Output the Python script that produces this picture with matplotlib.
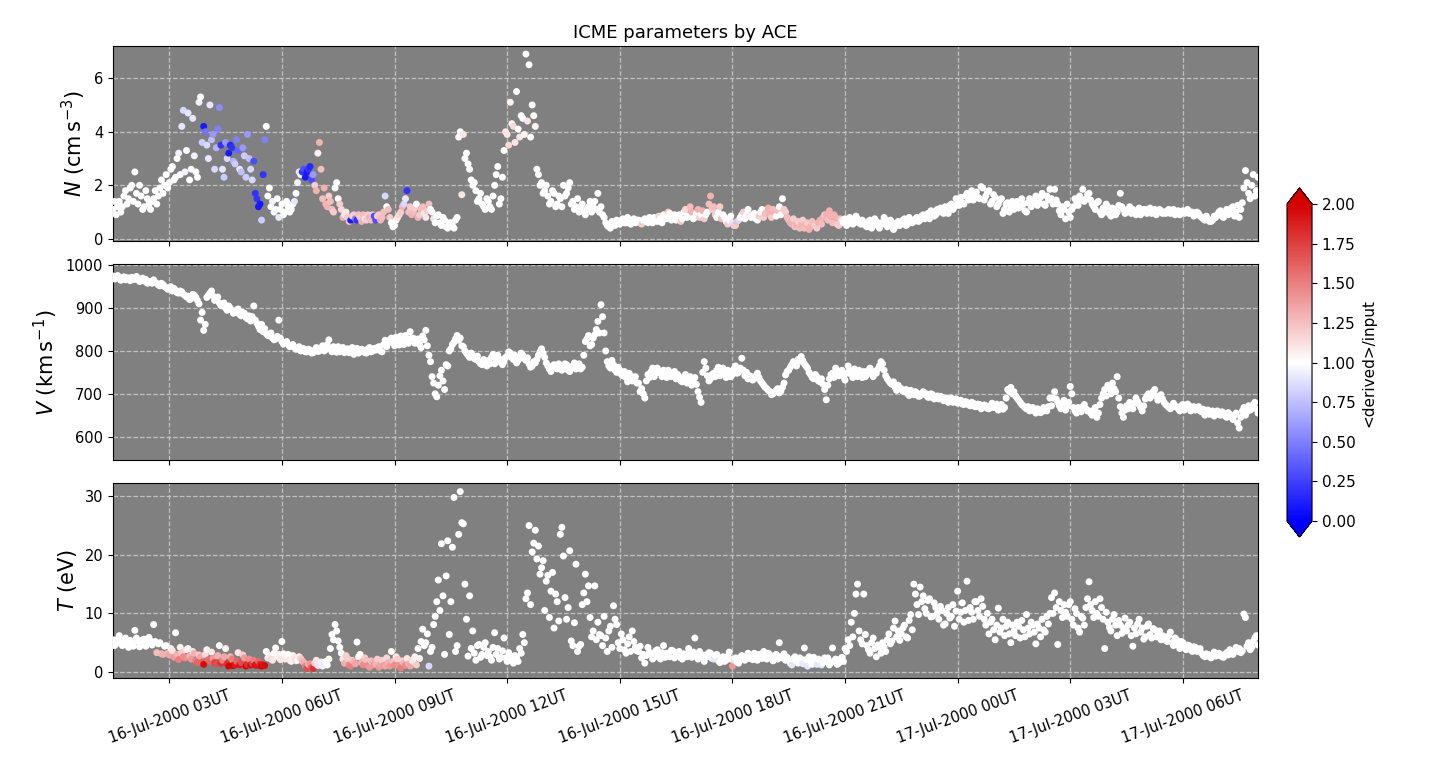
import numpy as np
import pandas as pd
import matplotlib
matplotlib.use('Agg')
import matplotlib.pyplot as plt
import matplotlib.dates as mdates
from matplotlib.colors import Normalize, LinearSegmentedColormap

# ACE data, 2.5-min samples from 16-Jul-2000 01:30UT, one row per hour
t_start = '2000-07-16 01:30'
t_end = '2000-07-17 08:00'

n_rows = [
    [1.1, 1.4, 0.9, 1.2, 1.4, 1.0, 1.2, 1.6, 1.8, 1.3, 1.5, 1.9, 2.0, 1.4, 2.5, 1.7, 1.3, 2.0, 1.6, 1.1, 1.2, 1.8, 1.5, 1.3],
    [1.1, 1.4, 1.5, 1.8, 1.3, 1.6, 1.9, 2.2, 1.7, 2.0, 2.4, 1.9, 2.1, 2.6, 2.7, 2.2, 2.3, 3.0, 3.2, 2.4, 4.2, 4.8, 2.5, 3.3],
    [4.7, 2.2, 2.6, 4.5, 3.1, 2.5, 2.3, 5.1, 5.3, 3.6, 4.2, 4.0, 3.5, 3.0, 5.0, 3.7, 3.9, 2.6, 3.4, 4.1, 4.9, 3.5, 2.6, 2.3],
    [3.6, 3.0, 3.2, 3.5, 3.4, 2.9, 2.8, 3.7, 3.3, 2.6, 2.5, 3.4, 3.1, 2.3, 3.9, 3.0, 2.6, 2.2, 2.9, 1.7, 1.5, 1.2, 1.3, 0.7],
    [2.4, 3.7, 4.2, 1.6, 1.9, 1.2, 1.4, 1.0, 1.1, 1.5, 0.8, 1.1, 1.3, 0.9, 1.0, 1.4, 1.2, 1.0, 1.1, 1.3, 1.4, 1.7, 2.1, 2.5],
    [2.4, 2.5, 2.6, 2.3, 2.5, 2.6, 2.7, 2.2, 2.4, 2.0, 1.8, 3.2, 3.6, 2.6, 1.5, 1.9, 1.3, 1.2, 1.6, 1.4, 1.1, 1.0, 1.9, 2.1],
    [1.5, 1.3, 1.1, 0.8, 0.9, 1.0, 0.8, 0.65, 0.7, 0.85, 0.9, 0.75, 0.7, 0.9, 0.8, 0.65, 0.9, 0.75, 0.7, 0.9, 0.8, 0.7, 0.9, 0.85],
    [0.7, 0.85, 0.9, 0.7, 0.8, 1.0, 1.6, 1.2, 1.1, 0.8, 0.6, 0.45, 0.5, 0.7, 0.8, 0.9, 1.0, 1.2, 1.3, 1.5, 1.8, 1.0, 1.2, 0.9],
    [1.0, 1.15, 1.3, 0.8, 0.9, 1.1, 1.2, 0.95, 0.8, 1.05, 1.3, 1.1, 1.0, 0.75, 0.6, 0.85, 0.9, 0.6, 0.5, 0.8, 0.7, 0.45, 0.4, 0.6],
    [0.6, 0.5, 0.4, 0.7, 0.8, 3.8, 4.0, 1.65, 3.9, 3.0, 3.2, 2.8, 2.6, 2.2, 2.0, 2.1, 1.8, 1.4, 1.5, 1.7, 1.3, 1.2, 1.1, 1.5],
    [1.4, 1.2, 1.1, 1.6, 2.0, 2.4, 2.7, 1.3, 1.5, 2.3, 3.3, 4.0, 3.9, 3.5, 5.1, 4.3, 4.2, 3.6, 5.5, 4.1, 3.8, 4.6, 4.5, 3.9],
    [6.9, 4.4, 6.5, 3.8, 5.0, 4.6, 4.2, 2.6, 2.4, 2.0, 2.1, 1.7, 1.8, 2.0, 1.6, 1.3, 1.4, 1.8, 1.7, 1.2, 1.3, 1.6, 1.5, 1.2],
    [2.0, 1.6, 1.7, 1.9, 2.1, 1.3, 1.4, 1.1, 1.2, 1.5, 1.0, 1.2, 1.3, 1.0, 0.9, 1.1, 1.2, 1.4, 1.0, 1.2, 1.4, 1.1, 1.7, 1.0],
    [1.2, 0.9, 0.8, 0.6, 0.5, 0.45, 0.4, 0.65, 0.6, 0.5, 0.7, 0.6, 0.55, 0.7, 0.75, 0.6, 0.6, 0.8, 0.7, 0.55, 0.65, 0.75, 0.6, 0.7],
    [0.7, 0.6, 0.55, 0.7, 0.75, 0.65, 0.6, 0.8, 0.7, 0.6, 0.8, 0.7, 0.65, 0.85, 0.75, 0.6, 0.9, 0.8, 0.75, 1.0, 0.95, 0.7, 0.8, 0.9],
    [0.7, 0.85, 0.9, 0.65, 0.75, 1.0, 1.1, 0.8, 0.85, 1.2, 1.0, 0.75, 0.8, 0.95, 1.1, 0.8, 0.9, 1.05, 0.75, 0.9, 1.0, 1.3, 1.6, 1.1],
    [1.2, 0.9, 0.8, 1.0, 1.2, 0.75, 0.9, 0.8, 0.65, 0.55, 0.7, 0.85, 0.6, 0.5, 0.5, 0.65, 0.7, 0.8, 0.9, 1.0, 0.75, 0.9, 1.1, 0.85],
    [0.8, 0.9, 0.95, 0.75, 0.7, 0.85, 1.0, 1.1, 0.8, 0.95, 1.0, 1.15, 0.9, 0.8, 1.1, 0.95, 0.85, 1.05, 1.2, 0.9, 1.5, 1.1, 1.0, 0.8],
    [0.7, 0.6, 0.55, 0.75, 0.45, 0.55, 0.65, 0.4, 0.5, 0.7, 0.4, 0.55, 0.6, 0.35, 0.45, 0.65, 0.55, 0.5, 0.4, 0.6, 0.7, 0.55, 0.8, 0.9],
    [0.9, 0.7, 1.05, 0.85, 0.6, 0.9, 0.8, 0.55, 0.5, 0.75, 0.7, 0.6, 0.75, 0.5, 0.6, 0.8, 0.7, 0.55, 0.6, 0.85, 0.75, 0.6, 0.55, 0.7],
    [0.6, 0.5, 0.45, 0.65, 0.7, 0.4, 0.5, 0.75, 0.65, 0.5, 0.4, 0.6, 0.55, 0.8, 0.7, 0.45, 0.5, 0.7, 0.6, 0.35, 0.45, 0.6, 0.65, 0.5],
    [0.6, 0.7, 0.75, 0.5, 0.55, 0.8, 0.7, 0.6, 0.65, 0.75, 0.8, 0.65, 0.7, 0.85, 0.9, 0.75, 0.85, 0.95, 0.75, 1.05, 1.0, 0.85, 0.9, 1.1],
    [1.0, 1.15, 1.1, 0.95, 1.2, 1.05, 0.95, 1.25, 1.3, 1.1, 1.2, 1.5, 1.4, 1.25, 1.55, 1.35, 1.3, 1.6, 1.7, 1.45, 1.6, 1.8, 1.45, 1.65],
    [1.75, 1.55, 1.5, 1.95, 1.9, 1.45, 1.6, 1.75, 1.8, 1.3, 1.4, 1.65, 1.55, 1.2, 1.3, 1.45, 1.5, 0.95, 1.1, 1.3, 1.35, 1.0, 1.2, 1.4],
    [1.1, 1.3, 1.4, 1.15, 1.2, 1.5, 1.3, 1.05, 1.0, 1.35, 1.5, 1.2, 1.3, 1.45, 1.6, 1.25, 1.35, 1.55, 1.7, 1.3, 1.25, 1.6, 1.45, 1.85],
    [1.5, 1.3, 1.85, 1.45, 1.3, 1.05, 0.9, 1.2, 1.1, 0.75, 1.3, 1.0, 0.8, 1.1, 1.2, 1.5, 1.4, 1.25, 1.6, 1.45, 1.85, 1.4, 1.5, 1.65],
    [1.7, 1.45, 1.3, 1.2, 1.1, 1.35, 1.4, 1.0, 0.9, 1.15, 1.0, 1.3, 1.2, 0.95, 0.85, 1.15, 1.1, 0.9, 1.0, 1.25, 1.7, 1.2, 1.1, 0.95],
    [1.0, 1.1, 1.2, 0.95, 1.1, 1.0, 0.9, 1.05, 1.15, 0.9, 1.0, 1.1, 1.1, 0.95, 1.05, 1.15, 0.95, 1.05, 1.1, 0.9, 1.0, 1.1, 1.05, 0.95],
    [1.0, 0.95, 1.05, 1.1, 0.95, 1.0, 1.1, 0.9, 1.0, 1.05, 0.9, 1.0, 1.05, 0.95, 1.0, 1.1, 0.95, 1.0, 1.0, 0.85, 0.9, 1.0, 0.95, 0.85],
    [0.8, 0.75, 0.7, 0.85, 0.75, 0.65, 0.65, 0.7, 0.85, 0.8, 0.9, 1.0, 1.05, 0.85, 0.8, 0.95, 1.1, 0.9, 0.95, 1.15, 1.2, 0.85, 1.0, 1.25],
    [0.8, 1.1, 1.35, 1.9, 2.55, 2.1, 1.7, 1.5, 2.0, 2.4, 1.6, 1.8, 2.3],
]

n_ratio_rows = [
    [1, 1, 1, 1, 1, 1, 1, 1, 1, 1, 1, 1, 1, 1, 1, 1, 1, 1, 1, 1, 1, 1, 1, 1],
    [1, 1, 1, 1, 1, 1, 1, 1, 1, 1, 1, 1, 1, 1, 1, 1, 1, 1, 0.95, 1, 0.9, 0.85, 0.95, 1],
    [0.9, 1.0, 1.0, 0.9, 0.95, 1.0, 1.0, 0.95, 1.0, 0.8, 0.1, 0.45, 0.85, 0.9, 0.9, 0.75, 0.6, 0.85, 0.7, 0.5, 0.55, 0.2, 0.9, 0.8],
    [0.6, 0.85, 0.1, 0.15, 0.2, 0.7, 0.8, 0.5, 0.4, 0.9, 0.75, 0.6, 0.8, 0.8, 0.6, 0.75, 0.85, 0.85, 0.3, 0.2, 0.2, 0.1, 0.1, 0.8],
    [0.2, 0.5, 1.0, 1, 1.0, 1, 0.95, 1, 1.0, 1, 0.9, 1, 1.0, 1, 1.0, 1, 1.0, 1, 1.0, 1, 0.9, 1, 0.95, 0.9],
    [0.95, 0.2, 0.3, 0.1, 0.1, 0.2, 0.15, 0.3, 0.6, 1.2, 1.3, 1.05, 1.3, 1.25, 1.25, 1.3, 1.3, 1.3, 1.2, 1.25, 1.25, 1.2, 1.0, 1.0],
    [1.0, 1.2, 1.15, 1.3, 0.9, 1.1, 1.2, 1.25, 0.1, 1.2, 1.2, 0.5, 0.2, 1.25, 1.2, 1.3, 1.25, 0.9, 1.2, 1.2, 1.3, 1.25, 1.2, 0.3],
    [0.3, 1.2, 1.2, 1.3, 1.25, 1.25, 0.85, 1.0, 1.25, 1.2, 1.0, 1.0, 1.0, 1.0, 1.1, 1.15, 1.2, 1.3, 0.85, 0.9, 0.2, 1.25, 1.2, 1.3],
    [1.25, 1.2, 1.0, 1.3, 1.2, 1.25, 1.25, 1.1, 1.1, 1.2, 1.25, 1.0, 1.0, 1.1, 1.0, 1, 1, 1, 1, 1, 1, 1, 1, 1],
    [1, 1, 1, 1, 1, 1, 1, 1.1, 1.1, 1, 1, 1, 1, 1, 1, 1, 1, 1, 1, 1, 1, 1, 1, 1],
    [1, 1, 1, 1, 1, 1, 1, 1, 1, 1, 1, 1.1, 1.1, 1.15, 1.05, 1, 1.15, 1.1, 1, 1, 1.1, 1, 1, 1.05],
    [1, 1.1, 1, 1, 1, 1, 1.05, 1, 1, 1, 1, 1, 1, 1, 1, 1, 1, 1, 1, 1, 1, 1, 1, 1],
    [1, 1, 1, 1, 1, 1, 1, 1, 1, 1, 1, 1, 1, 1, 1, 1, 1, 1, 1, 1, 1, 1, 1, 1],
    [1, 1, 1, 1, 1, 1, 1, 1, 1, 1, 1, 1, 1, 1, 1, 1, 1, 1, 1, 1, 1, 1, 1, 1],
    [1, 1, 1.2, 1, 1, 1, 1, 1, 1, 1, 1, 1, 1, 1.15, 1, 1, 1, 1, 1, 1.2, 1, 1, 1, 1],
    [1, 1, 1, 1.2, 1, 1, 1.15, 1, 1, 1.25, 1.3, 1, 1, 1, 1.3, 1.2, 1, 1.3, 1.2, 1, 1, 1.25, 1.3, 1.2],
    [1.25, 1.2, 1, 1, 1.2, 1.25, 1, 1, 1, 1.2, 1, 1, 0.9, 0.85, 1.2, 1.25, 0.85, 1, 1, 1.2, 1, 1, 1, 1.1],
    [1, 1, 1, 1, 1, 1.2, 1, 1, 1.2, 1.25, 1.25, 1.3, 1.3, 1.2, 1.25, 1.3, 1, 1.25, 1, 1, 1, 1.2, 1.2, 1.25],
    [1.25, 1.3, 1.3, 1.2, 1.25, 1.3, 1.2, 1.25, 1.3, 1.2, 1.25, 1.3, 1.2, 1.3, 1.3, 1.25, 1.25, 1.2, 1.2, 1.3, 1.3, 1.25, 1.3, 1.2],
    [1.3, 1.25, 1.3, 1.3, 1.25, 1.3, 1.3, 1.2, 1.2, 1.25, 1.1, 1, 1, 1, 1, 1, 1, 1, 1, 1, 1, 1, 1, 1],
    [1, 1, 1, 1, 1, 1, 1, 1, 1, 1, 1, 1, 1, 1, 1, 1, 1, 1, 1, 1, 1, 1, 1, 1],
    [1, 1, 1, 1, 1, 1, 1, 1, 1, 1, 1, 1, 1, 1, 1, 1, 1, 1, 1, 1, 1, 1, 1, 1],
    [1, 1, 1, 1, 1, 1, 1, 1, 1, 1, 1, 1, 1, 1, 1, 1, 1, 1, 1, 1, 1, 1, 1, 1],
    [1, 1, 1, 1, 1, 1, 1, 1, 1, 1, 1, 1, 1, 1, 1, 1, 1, 1, 1, 1, 1, 1, 1, 1],
    [1, 1, 1, 1, 1, 1, 1, 1, 1, 1, 1, 1, 1, 1, 1, 1, 1, 1, 1, 1, 1, 1, 1, 1],
    [1, 1, 1, 1, 1, 1, 1, 1, 1, 1, 1, 1, 1, 1, 1, 1, 1, 1, 1, 1, 1, 1, 1, 1],
    [1, 1, 1, 1, 1, 1, 1, 1, 1, 1, 1, 1, 1, 1, 1, 1, 1, 1, 1, 1, 1, 1, 1, 1],
    [1, 1, 1, 1, 1, 1, 1, 1, 1, 1, 1, 1, 1, 1, 1, 1, 1, 1, 1, 1, 1, 1, 1, 1],
    [1, 1, 1, 1, 1, 1, 1, 1, 1, 1, 1, 1, 1, 1, 1, 1, 1, 1, 1, 1, 1, 1, 1, 1],
    [1, 1, 1, 1, 1, 1, 1, 1, 1, 1, 1, 1, 1, 1, 1, 1, 1, 1, 1, 1, 1, 1, 1, 1],
    [1, 1, 1, 1, 1, 1, 1, 1, 1, 1, 1, 1, 1],
]

v_rows = [
    [975, 968, 970, 976, 972, 965, 968, 973, 966, 971, 970, 964, 972, 968, 967, 974, 969, 962, 965, 970, 963, 967, 958, 962],
    [962, 958, 966, 960, 958, 954, 952, 958, 955, 950, 948, 944, 945, 950, 940, 946, 942, 936, 935, 940, 938, 932, 930, 926],
    [928, 920, 922, 932, 930, 925, 918, 910, 872, 890, 848, 862, 925, 930, 935, 940, 928, 918, 920, 926, 912, 906, 905, 912],
    [900, 895, 905, 900, 895, 888, 890, 895, 898, 885, 882, 890, 888, 878, 875, 882, 870, 880, 905, 872, 865, 858, 850, 862],
    [845, 852, 840, 836, 835, 842, 830, 826, 828, 834, 872, 830, 822, 816, 818, 822, 815, 810, 812, 815, 808, 804, 805, 810],
    [800, 806, 805, 798, 798, 804, 802, 795, 796, 802, 808, 799, 800, 806, 812, 800, 803, 815, 826, 805, 798, 810, 804, 797],
    [810, 798, 802, 808, 796, 803, 805, 796, 800, 808, 792, 800, 806, 795, 798, 804, 802, 796, 795, 805, 808, 798, 800, 806],
    [802, 808, 810, 800, 798, 815, 825, 810, 818, 826, 830, 820, 812, 832, 822, 814, 835, 824, 815, 836, 828, 818, 845, 830],
    [830, 818, 822, 828, 815, 808, 835, 826, 848, 812, 790, 775, 740, 725, 700, 693, 720, 742, 755, 730, 710, 768, 765, 800],
    [805, 815, 820, 828, 836, 825, 830, 812, 810, 800, 795, 790, 785, 795, 790, 782, 780, 788, 775, 770, 768, 780, 772, 765],
    [778, 770, 785, 792, 770, 782, 790, 775, 780, 768, 775, 785, 788, 798, 795, 784, 780, 790, 772, 778, 785, 795, 790, 782],
    [778, 784, 770, 762, 765, 775, 772, 780, 790, 798, 805, 795, 785, 772, 765, 758, 752, 765, 768, 760, 758, 770, 763, 755],
    [760, 770, 768, 755, 752, 762, 765, 772, 758, 766, 770, 758, 762, 790, 822, 828, 836, 812, 815, 830, 838, 850, 869, 842],
    [908, 880, 842, 800, 775, 765, 760, 778, 768, 755, 750, 762, 755, 745, 742, 752, 738, 728, 748, 742, 730, 735, 740, 725],
    [725, 705, 712, 700, 690, 730, 745, 738, 752, 760, 740, 748, 760, 752, 748, 740, 755, 745, 738, 755, 750, 740, 745, 752],
    [735, 745, 740, 730, 728, 738, 745, 725, 732, 740, 720, 732, 738, 722, 705, 692, 680, 750, 775, 760, 742, 730, 735, 745],
    [748, 740, 755, 762, 742, 750, 760, 745, 738, 755, 752, 740, 745, 758, 765, 748, 750, 760, 783, 755, 742, 750, 735, 742],
    [740, 732, 735, 742, 748, 738, 730, 725, 720, 715, 712, 708, 705, 698, 700, 704, 708, 712, 702, 706, 715, 725, 744, 752],
    [755, 762, 768, 775, 772, 765, 780, 776, 787, 778, 770, 765, 760, 750, 745, 738, 735, 745, 740, 730, 728, 735, 722, 710],
    [686, 720, 735, 745, 748, 738, 760, 750, 742, 752, 755, 740, 732, 748, 765, 755, 745, 738, 758, 745, 740, 755, 750, 738],
    [752, 740, 745, 755, 760, 748, 740, 752, 748, 758, 765, 775, 770, 755, 742, 735, 730, 725, 722, 728, 715, 708, 720, 712],
    [712, 706, 705, 710, 700, 696, 708, 702, 698, 705, 702, 694, 695, 700, 705, 698, 700, 692, 692, 700, 698, 688, 690, 695],
    [688, 694, 692, 684, 685, 690, 680, 686, 690, 680, 682, 688, 678, 684, 685, 676, 675, 682, 680, 674, 672, 680, 678, 670],
    [670, 676, 675, 665, 668, 674, 672, 666, 665, 672, 678, 668, 670, 676, 662, 670, 675, 664, 668, 690, 710, 705, 715, 700],
    [705, 695, 690, 685, 680, 675, 672, 668, 665, 670, 660, 664, 668, 660, 655, 665, 662, 656, 658, 668, 665, 660, 670, 690],
    [672, 690, 705, 688, 680, 672, 665, 678, 685, 662, 670, 680, 717, 700, 668, 660, 655, 668, 662, 658, 670, 675, 665, 660],
    [660, 655, 650, 662, 668, 645, 655, 675, 690, 700, 710, 695, 720, 712, 700, 725, 712, 705, 740, 690, 670, 655, 645, 662],
    [672, 665, 680, 670, 665, 678, 690, 682, 675, 668, 660, 672, 688, 695, 700, 690, 695, 705, 710, 695, 685, 692, 698, 688],
    [680, 675, 672, 668, 665, 672, 678, 670, 670, 665, 660, 672, 675, 662, 668, 676, 672, 660, 665, 670, 662, 668, 670, 660],
    [658, 664, 650, 656, 662, 652, 655, 660, 648, 656, 660, 652, 650, 658, 655, 648, 645, 656, 652, 645, 640, 650, 655, 632],
    [620, 645, 660, 668, 650, 658, 672, 662, 665, 675, 680, 665, 655],
]

t_rows = [
    [5.5, 4.5, 4.8, 5.6, 6.2, 4.9, 4.5, 5.3, 5.8, 4.6, 4.2, 5.4, 5.0, 4.4, 7.1, 5.8, 5.2, 4.3, 4.6, 5.5, 5.6, 4.4, 4.9, 5.9],
    [5.3, 4.6, 8.1, 5.2, 3.3, 4.8, 5.0, 3.1, 3.0, 4.4, 4.5, 3.2, 2.9, 4.0, 3.6, 2.5, 6.7, 3.0, 2.1, 4.2, 3.3, 2.6, 2.4, 3.8],
    [4.0, 2.7, 2.2, 3.5, 3.2, 1.9, 1.6, 2.9, 2.6, 1.7, 1.3, 3.0, 3.8, 2.1, 1.8, 3.4, 2.3, 1.6, 1.4, 2.8, 4.5, 1.5, 2.0, 2.6],
    [4.0, 1.4, 1.0, 2.6, 2.2, 1.1, 1.2, 1.8, 3.3, 1.2, 1.6, 2.9, 2.4, 1.0, 1.3, 2.2, 1.2, 1.5, 2.0, 1.2, 1.1, 1.8, 1.3, 1.0],
    [1.2, 1.1, 3.5, 2.4, 2.8, 2.2, 2.0, 3.2, 4.1, 2.6, 3.0, 2.1, 5.2, 3.1, 2.2, 2.7, 3.0, 2.0, 1.8, 2.8, 2.5, 1.9, 2.0, 2.6],
    [2.3, 1.9, 1.6, 1.0, 0.6, 1.3, 1.4, 0.8, 0.6, 1.5, 2.0, 1.1, 1.3, 1.7, 1.0, 1.4, 1.8, 1.2, 2.2, 4.0, 6.4, 5.5, 8.1, 7.0],
    [5.3, 4.2, 3.2, 2.2, 1.5, 2.8, 2.3, 1.2, 1.0, 2.0, 1.8, 1.4, 5.1, 2.6, 3.0, 1.6, 1.2, 2.4, 2.0, 1.1, 0.8, 1.9, 1.6, 1.2],
    [1.4, 2.2, 0.8, 1.3, 2.0, 1.1, 1.0, 2.4, 1.6, 1.0, 3.5, 1.8, 1.2, 2.6, 2.2, 1.0, 0.7, 1.9, 1.5, 1.1, 2.3, 1.4, 1.0, 2.0],
    [1.8, 2.6, 1.2, 4.0, 2.3, 5.2, 7.3, 4.5, 5.0, 6.5, 1.0, 3.5, 4.2, 8.1, 9.5, 12.0, 15.7, 10.5, 21.9, 13.0, 3.0, 16.4, 22.4, 6.4],
    [12.0, 21.3, 29.8, 3.5, 4.5, 23.5, 30.8, 25.5, 25.3, 15.0, 9.0, 2.7, 13.0, 4.0, 7.0, 3.2, 2.0, 4.5, 4.7, 2.5, 3.0, 4.2, 5.0, 2.8],
    [3.5, 2.6, 2.0, 4.2, 6.7, 3.0, 4.0, 2.2, 2.5, 3.6, 5.8, 2.4, 1.8, 3.3, 2.8, 2.0, 1.5, 2.8, 2.5, 1.8, 4.0, 3.2, 6.4, 5.0],
    [12.5, 13.5, 25.0, 11.5, 20.5, 22.0, 24.2, 19.3, 21.5, 16.7, 17.8, 19.0, 10.5, 15.5, 16.5, 9.3, 13.8, 17.0, 7.5, 13.3, 12.0, 8.7, 23.5, 24.7],
    [19.8, 12.7, 9.0, 11.0, 20.7, 5.3, 4.5, 8.4, 18.4, 3.5, 4.4, 4.7, 11.5, 13.5, 16.7, 12.0, 14.7, 9.3, 6.0, 7.0, 14.7, 5.5, 8.5, 6.4],
    [6.2, 4.5, 9.5, 5.8, 3.5, 7.0, 7.8, 4.2, 11.3, 9.0, 8.1, 5.0, 4.0, 6.5, 5.5, 3.8, 3.2, 4.8, 6.0, 3.5, 7.0, 5.2, 4.2, 3.6],
    [3.5, 4.4, 2.4, 3.0, 1.5, 2.8, 4.2, 3.4, 3.0, 2.2, 2.5, 3.6, 3.8, 2.8, 2.2, 3.3, 4.5, 2.5, 3.2, 2.9, 2.6, 3.7, 3.6, 2.4],
    [2.8, 3.3, 3.5, 2.4, 2.2, 3.1, 3.0, 2.6, 4.0, 2.9, 2.5, 3.4, 5.8, 2.8, 2.2, 3.5, 3.0, 2.4, 1.8, 2.9, 2.6, 3.3, 3.2, 2.3],
    [2.2, 2.8, 3.0, 1.9, 1.6, 2.4, 2.6, 1.8, 2.0, 2.7, 3.4, 2.2, 1.0, 2.0, 2.4, 1.7, 1.5, 2.5, 2.8, 2.1, 2.0, 2.7, 3.2, 2.3],
    [2.6, 2.1, 3.2, 2.7, 2.0, 3.0, 2.8, 2.3, 3.5, 2.7, 2.2, 3.2, 2.9, 2.4, 1.9, 2.8, 3.0, 2.2, 5.0, 2.6, 2.4, 3.1, 2.0, 2.5],
    [2.0, 1.5, 1.2, 2.3, 2.6, 1.8, 1.5, 2.4, 2.2, 1.4, 4.1, 2.1, 1.0, 2.6, 1.8, 1.3, 2.5, 1.9, 1.3, 2.2, 2.0, 1.2, 1.6, 2.4],
    [1.8, 2.4, 1.2, 1.6, 4.1, 1.9, 2.2, 1.3, 1.5, 2.2, 2.5, 1.8, 4.0, 3.5, 5.5, 4.5, 8.5, 6.0, 10.0, 13.3, 15.0, 7.0, 5.5, 4.8],
    [13.3, 6.4, 4.5, 3.8, 3.2, 5.0, 5.8, 4.0, 2.6, 4.6, 4.2, 3.2, 5.0, 4.3, 3.5, 5.5, 6.5, 4.8, 5.3, 7.5, 8.7, 6.0, 7.0, 5.4],
    [6.5, 7.5, 8.0, 6.0, 5.8, 8.8, 9.8, 7.2, 15.0, 13.3, 11.5, 9.8, 14.5, 12.0, 13.0, 10.8, 10.0, 12.2, 12.5, 9.4, 9.5, 11.8, 11.0, 10.0],
    [9.0, 11.2, 10.5, 8.0, 8.2, 10.0, 11.0, 9.2, 9.5, 11.5, 7.8, 10.4, 13.8, 9.0, 10.2, 11.8, 8.5, 10.5, 15.5, 8.8, 11.0, 10.2, 9.0, 12.0],
    [12.0, 10.5, 9.5, 12.5, 11.2, 9.0, 8.0, 10.0, 6.5, 8.5, 9.0, 7.2, 5.5, 8.0, 10.9, 6.8, 7.5, 9.0, 6.2, 7.8, 8.5, 6.5, 5.0, 8.0],
    [7.0, 6.2, 8.5, 7.8, 5.8, 8.8, 7.2, 6.0, 9.8, 7.5, 6.5, 8.5, 8.0, 6.8, 4.8, 8.2, 7.5, 6.0, 9.0, 7.2, 6.8, 9.5, 8.2, 10.0],
    [12.7, 10.0, 13.5, 11.0, 4.7, 12.0, 10.5, 9.3, 11.5, 10.2, 9.5, 11.5, 12.0, 9.0, 8.0, 10.8, 10.0, 7.5, 6.8, 9.5, 9.2, 8.0, 11.0, 12.5],
    [15.4, 11.5, 10.5, 9.3, 12.0, 10.0, 9.5, 12.5, 11.0, 9.0, 4.0, 10.2, 8.5, 7.6, 7.0, 9.0, 9.8, 8.0, 6.2, 8.8, 8.0, 6.6, 7.5, 9.2],
    [7.0, 8.0, 8.5, 6.2, 4.4, 7.5, 6.5, 8.2, 9.0, 6.8, 7.5, 5.6, 6.0, 7.8, 8.2, 6.4, 5.8, 7.4, 7.2, 6.0, 6.5, 7.0, 5.5, 6.2],
    [6.0, 5.4, 5.2, 6.2, 6.8, 5.0, 4.5, 5.8, 5.5, 4.6, 4.0, 5.2, 5.0, 4.2, 3.8, 4.6, 4.5, 3.8, 3.5, 4.3, 4.2, 3.5, 3.6, 4.0],
    [3.2, 2.8, 2.6, 3.1, 3.0, 2.6, 2.4, 2.9, 3.4, 2.7, 2.8, 3.2, 3.0, 2.6, 2.5, 3.0, 3.3, 2.9, 3.8, 3.4, 3.0, 3.6, 4.2, 3.5],
    [4.0, 3.3, 3.6, 9.9, 9.3, 4.4, 5.0, 3.8, 4.2, 5.2, 5.8, 6.2, 4.6],
]

t_ratio_rows = [
    [1, 1, 1, 1, 1, 1, 1, 1, 1, 1, 1, 1, 1, 1, 1, 1, 1, 1, 1, 1, 1, 1, 1, 1],
    [1, 1, 1, 1, 1.25, 1, 1, 1.25, 1.3, 1, 1, 1.3, 1.35, 1.05, 1.1, 1.4, 1, 1.3, 1.5, 1.05, 1.2, 1.45, 1.45, 1.1],
    [1.05, 1.3, 1.4, 1.1, 1.3, 1.5, 1.6, 1.2, 1.35, 1.6, 1.95, 1.15, 1.05, 1.55, 1.6, 1.1, 1.4, 1.75, 1.7, 1.3, 1.0, 1.8, 1.5, 1.35],
    [1.05, 1.8, 2.0, 1.3, 1.5, 2.0, 1.9, 1.6, 1.1, 1.9, 1.7, 1.2, 1.4, 2.0, 1.8, 1.45, 1.95, 1.75, 1.5, 1.95, 1.9, 1.6, 1.85, 2.0],
    [1.9, 1.95, 1.0, 1.1, 1.05, 1.15, 1.1, 1.0, 1.0, 1.05, 1.05, 1.1, 1.0, 1.0, 1.1, 1.05, 1.0, 1.1, 1.05, 1.0, 1.1, 1.15, 1.0, 1.05],
    [1.2, 1.25, 1.3, 1.5, 1.7, 1.3, 1.4, 1.6, 1.8, 1.2, 1.1, 1.1, 0.9, 0.95, 0.95, 0.9, 1.0, 1.0, 1.0, 1, 1.0, 1, 1.0, 1],
    [1, 1, 1, 1.1, 1.3, 1.2, 1.2, 1.45, 1.5, 1.2, 1.3, 1.35, 1.0, 1.05, 1.0, 1.3, 1.45, 1.2, 1.25, 1.45, 1.4, 1.25, 1.3, 1.4],
    [1.3, 1.2, 1.4, 1.35, 1.2, 1.4, 1.35, 1.15, 1.3, 1.4, 1.0, 1.25, 1.45, 1.1, 1.2, 1.4, 1.5, 1.2, 1.3, 1.45, 1.1, 1.3, 1.35, 1.15],
    [1.1, 1.05, 1.2, 1, 1.05, 1, 1, 1, 1, 1, 0.85, 1, 1, 1, 1, 1, 1, 1, 1, 1, 1, 1, 1, 1],
    [1, 1, 1, 1, 1, 1, 1, 1, 1, 1, 1, 1, 1, 1, 1, 1, 1, 1, 1, 1, 1, 1, 1, 1],
    [1, 1, 1, 1, 1, 1, 1, 1, 1, 1, 1, 1, 1, 1, 1, 1, 1, 1, 1, 1, 1, 1, 1, 1],
    [1, 1, 1, 1, 1, 1, 1, 1, 1, 1, 1, 1, 1, 1, 1, 1, 1, 1, 1, 1, 1, 1, 1, 1],
    [1, 1, 1, 1, 1, 1, 1, 1, 1, 1, 1, 1, 1, 1, 1, 1, 1, 1, 1, 1, 1, 1, 1, 1],
    [1, 1, 1, 1, 1, 1, 1, 1, 1, 1, 1, 1, 1, 1, 1, 1, 1, 1, 1, 1, 1, 1, 1, 1],
    [1, 1, 1, 1, 1, 1, 1, 1, 1, 1, 1, 1, 1, 1, 1, 1, 1, 1, 1, 1, 1, 1, 1, 1],
    [1, 1, 1, 1, 1, 1, 1, 1, 1, 1, 1, 1, 1, 1, 1, 1, 1, 1, 1, 1, 1, 1, 1, 1],
    [0.9, 1, 1, 0.92, 1, 1, 1, 1, 1, 1, 1, 1, 1.4, 1.1, 1, 1, 1, 1, 1, 1, 1, 1, 1, 1],
    [1, 1, 1, 1, 1, 1, 1, 1, 1, 1, 1, 1, 1, 1, 1, 1, 1, 1, 1, 1, 1, 1, 1, 1],
    [1, 1, 0.9, 1, 1, 1, 1, 1, 1, 0.92, 1, 1, 0.9, 1, 1, 1, 1, 1, 0.9, 1, 1, 0.92, 1, 1],
    [1, 1, 1, 1, 1, 1, 1, 1, 1, 1, 1, 1, 1, 1, 1, 1, 1, 1, 1, 1, 1, 1, 1, 1],
    [1, 1, 1, 1, 1, 1, 1, 1, 1, 1, 1, 1, 1, 1, 1, 1, 1, 1, 1, 1, 1, 1, 1, 1],
    [1, 1, 1, 1, 1, 1, 1, 1, 1, 1, 1, 1, 1, 1, 1, 1, 1, 1, 1, 1, 1, 1, 1, 1],
    [1, 1, 1, 1, 1, 1, 1, 1, 1, 1, 1, 1, 1, 1, 1, 1, 1, 1, 1, 1, 1, 1, 1, 1],
    [1, 1, 1, 1, 1, 1, 1, 1, 1, 1, 1, 1, 1, 1, 1, 1, 1, 1, 1, 1, 1, 1, 1, 1],
    [1, 1, 1, 1, 1, 1, 1, 1, 1, 1, 1, 1, 1, 1, 1, 1, 1, 1, 1, 1, 1, 1, 1, 1],
    [1, 1, 1, 1, 1, 1, 1, 1, 1, 1, 1, 1, 1, 1, 1, 1, 1, 1, 1, 1, 1, 1, 1, 1],
    [1, 1, 1, 1, 1, 1, 1, 1, 1, 1, 1, 1, 1, 1, 1, 1, 1, 1, 1, 1, 1, 1, 1, 1],
    [1, 1, 1, 1, 1, 1, 1, 1, 1, 1, 1, 1, 1, 1, 1, 1, 1, 1, 1, 1, 1, 1, 1, 1],
    [1, 1, 1, 1, 1, 1, 1, 1, 1, 1, 1, 1, 1, 1, 1, 1, 1, 1, 1, 1, 1, 1, 1, 1],
    [1, 1, 1, 1, 1, 1, 1, 1, 1, 1, 1, 1, 1, 1, 1, 1, 1, 1, 1, 1, 1, 1, 1, 1],
    [1, 1, 1, 1, 1, 1, 1, 1, 1, 1, 1, 1, 1],
]

# sanity check on the hand-typed rows
for name, rows in [('n', n_rows), ('n_ratio', n_ratio_rows), ('v', v_rows),
                   ('t', t_rows), ('t_ratio', t_ratio_rows)]:
    bad = [(i, len(r)) for i, r in enumerate(rows) if len(r) != (13 if i == 30 else 24)]
    if bad or len(rows) != 31:
        raise ValueError(f'{name}: rows {len(rows)}, bad {bad}')

n_val = np.concatenate(n_rows)
n_ratio = np.concatenate(n_ratio_rows)
v_val = np.concatenate(v_rows)
t_val = np.concatenate(t_rows)
t_ratio = np.concatenate(t_ratio_rows)
times = pd.date_range(t_start, periods=len(n_val), freq='150s')

cmap = LinearSegmentedColormap.from_list('bwr_ace', ['#0000ff', '#ffffff', '#d40000'])
norm = Normalize(vmin=0, vmax=2)

fig = plt.figure(figsize=(14.3, 7.8), dpi=100)
ax_n = fig.add_axes([0.079, 0.691, 0.8007, 0.250])
ax_v = fig.add_axes([0.079, 0.410, 0.8007, 0.251], sharex=ax_n)
ax_t = fig.add_axes([0.079, 0.131, 0.8007, 0.250], sharex=ax_n)
cax = fig.add_axes([0.900, 0.3115, 0.0175, 0.4475])

sc = ax_n.scatter(times, n_val, c=n_ratio, cmap=cmap, norm=norm, s=25, edgecolors='none', zorder=3)
ax_v.scatter(times, v_val, color=cmap(norm(1.0)), s=25, edgecolors='none', zorder=3)
ax_t.scatter(times, t_val, c=t_ratio, cmap=cmap, norm=norm, s=25, edgecolors='none', zorder=3)

ax_n.set_ylim(-0.08, 7.2)
ax_n.set_yticks([0, 2, 4, 6])
ax_v.set_ylim(545, 1002)
ax_v.set_yticks([600, 700, 800, 900, 1000])
ax_t.set_ylim(-1.0, 32.3)
ax_t.set_yticks([0, 10, 20, 30])

ax_n.set_ylabel(r'$N$ ($\mathrm{cm\,s^{-3}}$)', fontsize=15)
ax_v.set_ylabel(r'$V$ ($\mathrm{km\,s^{-1}}$)', fontsize=15)
ax_t.set_ylabel(r'$T$ (eV)', fontsize=15)
ax_n.set_title('ICME parameters by ACE', fontsize=13)

for ax in (ax_n, ax_v, ax_t):
    ax.set_facecolor('gray')
    ax.grid(True, ls='--', color='#c8c8c8', lw=0.9, alpha=0.9)
    ax.set_axisbelow(True)
    ax.tick_params(labelsize=10.5)

ax_n.set_xlim(pd.Timestamp(t_start), pd.Timestamp(t_end))
ax_t.xaxis.set_major_locator(mdates.HourLocator(byhour=range(0, 24, 3)))
ax_t.xaxis.set_major_formatter(mdates.DateFormatter('%d-%b-%Y %HUT'))
plt.setp(ax_n.get_xticklabels(), visible=False)
plt.setp(ax_v.get_xticklabels(), visible=False)
plt.setp(ax_t.get_xticklabels(), rotation=20, ha='center', fontsize=10.5)

cb = fig.colorbar(sc, cax=cax, extend='both')
cb.set_ticks(np.arange(0, 2.01, 0.25))
cb.ax.set_yticklabels(['%.2f' % v for v in np.arange(0, 2.01, 0.25)])
cb.ax.tick_params(labelsize=11)
cb.set_label('<derived>/input', fontsize=11)

fig.savefig('out.png', dpi=100)
